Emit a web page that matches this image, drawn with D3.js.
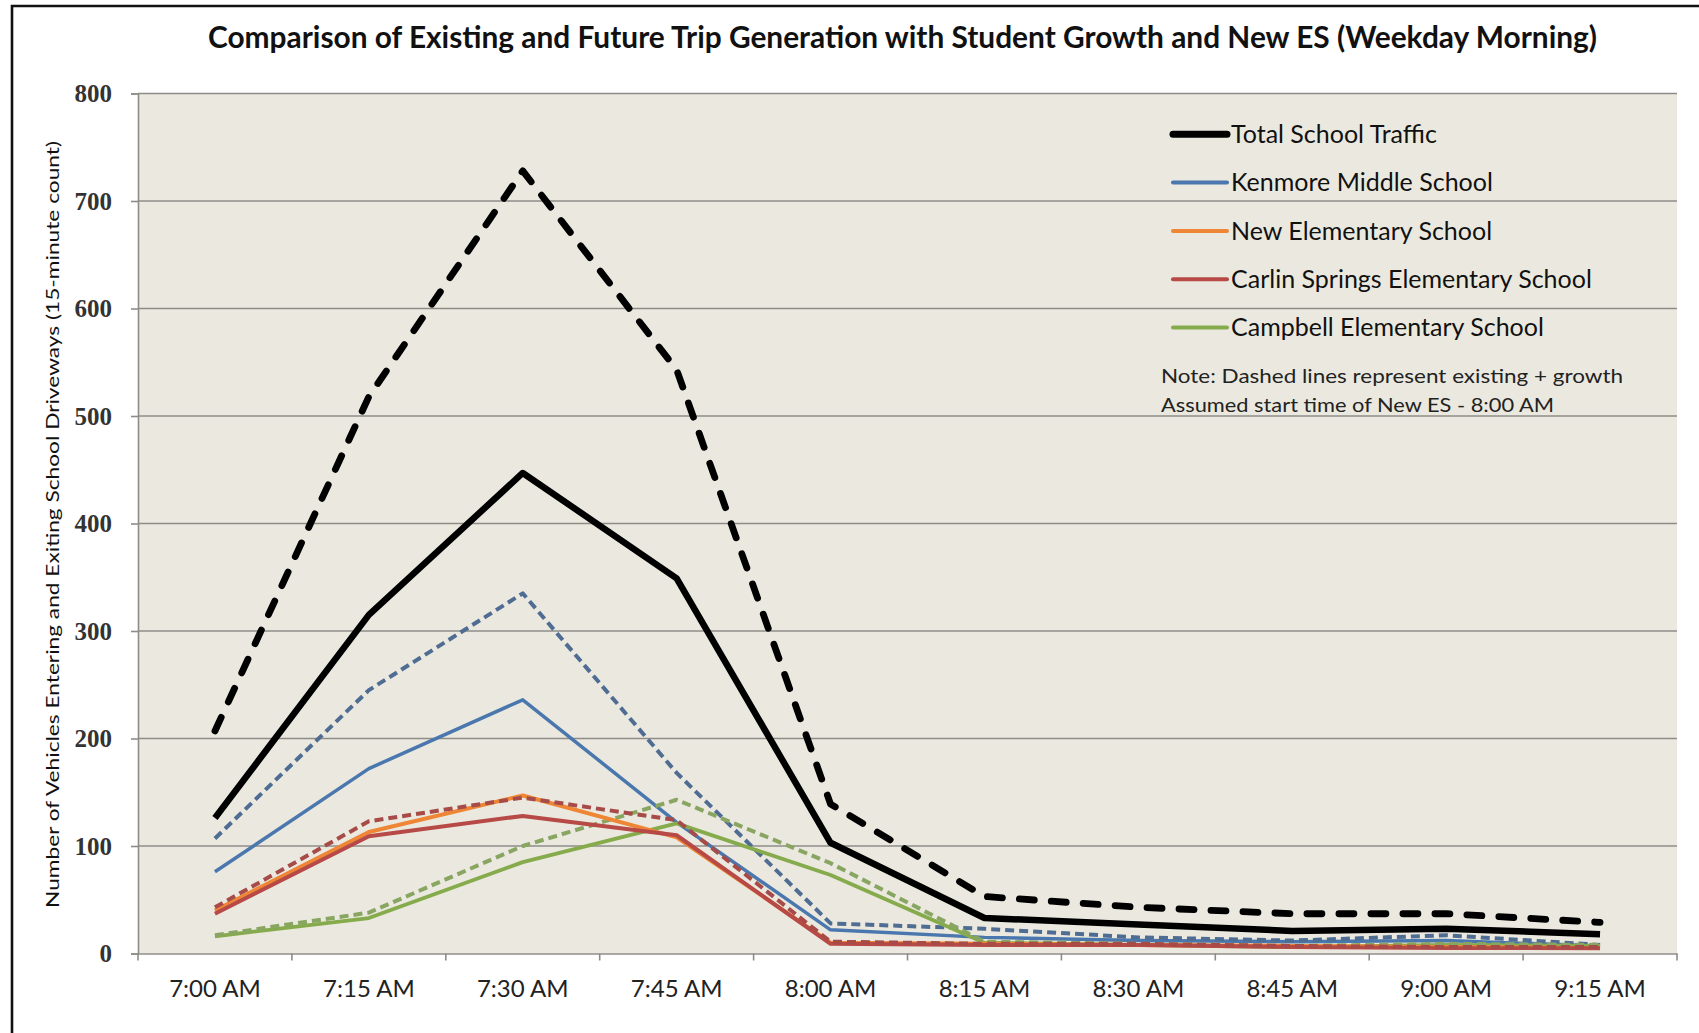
<!DOCTYPE html>
<html>
<head>
<meta charset="utf-8">
<script src="https://cdn.jsdelivr.net/npm/d3@7"></script>
<style>
  html, body { margin: 0; padding: 0; background: #ffffff; }
  svg { display: block; }
</style>
</head>
<body>
<svg id="chart" width="1699" height="1033"></svg>
<script>
// ---- data: 15-minute counts of vehicles entering/exiting school driveways ----
const timeLabels = ["7:00 AM", "7:15 AM", "7:30 AM", "7:45 AM", "8:00 AM",
                    "8:15 AM", "8:30 AM", "8:45 AM", "9:00 AM", "9:15 AM"];
const yTickValues = [0, 100, 200, 300, 400, 500, 600, 700, 800];

// existing counts (solid lines)
const totalExisting    = [126, 315, 447, 349, 103, 33, 27, 21, 23, 18];
const kenmoreExisting  = [76, 172, 236, 122, 22, 15, 12, 11, 12, 7];
const newEsCounts      = [40, 113, 147, 108, 10, 9, 8, 7, 6, 5];
const carlinExisting   = [37, 109, 128, 110, 9, 8, 8, 6, 5, 5];
const campbellExisting = [16, 33, 85, 121, 73, 10, 8, 6, 8, 7];

// existing + growth (dashed lines)
const totalFuture    = [207, 518, 728, 543, 139, 53, 43, 37, 37, 29];
const kenmoreFuture  = [107, 245, 335, 168, 28, 23, 15, 12, 17, 8];
const carlinFuture   = [43, 123, 145, 124, 11, 9, 9, 7, 6, 6];
const campbellFuture = [17, 38, 100, 143, 84, 11, 9, 7, 9, 8];

const legendLabels = ["Total School Traffic", "Kenmore Middle School", "New Elementary School",
                      "Carlin Springs Elementary School", "Campbell Elementary School"];
const noteLines = ["Note:  Dashed lines represent existing + growth",
                   "Assumed start time of New ES - 8:00  AM"];

const titleText = "Comparison of Existing and Future Trip Generation with Student Growth and New ES (Weekday Morning)";
const yTitleText = "Number of Vehicles Entering and Exiting School Driveways  (15-minute count)";

// ---- styling ----
const colors = {
  total: "#000000",
  kenmore: "#4a77ad",
  kenmoreDash: "#4f6c92",
  newEs: "#ee8636",
  carlin: "#b74a46",
  carlinDash: "#a64b47",
  campbell: "#86ab4c",
  campbellDash: "#89a562"
};

const series = [
  { values: totalFuture,      color: colors.total,        width: 6.8, dash: "15,17", cap: "round" },
  { values: totalExisting,    color: colors.total,        width: 6.5 },
  { values: kenmoreExisting,  color: colors.kenmore,      width: 3.5 },
  { values: kenmoreFuture,    color: colors.kenmoreDash,  width: 4,   dash: "9,5" },
  { values: campbellExisting, color: colors.campbell,     width: 3.8 },
  { values: campbellFuture,   color: colors.campbellDash, width: 4,   dash: "9,5" },
  { values: newEsCounts,      color: colors.newEs,        width: 4 },
  { values: carlinExisting,   color: colors.carlin,       width: 4 },
  { values: carlinFuture,     color: colors.carlinDash,   width: 4,   dash: "9,5" }
];

const legendStyles = [
  { color: colors.total,    width: 7 },
  { color: colors.kenmore,  width: 4 },
  { color: colors.newEs,    width: 4 },
  { color: colors.carlin,   width: 4 },
  { color: colors.campbell, width: 4 }
];

// ---- layout ----
const W = 1699, H = 1033;
const plot = { left: 138, right: 1677, top: 93.5, bottom: 953.5 };

const svg = d3.select("#chart");
svg.append("rect").attr("width", W).attr("height", H).attr("fill", "#ffffff");

// outer frame (top and left edges visible)
svg.append("path")
  .attr("d", `M12,${H} L12,6 L${W},6`)
  .attr("fill", "none").attr("stroke", "#111").attr("stroke-width", 2.6);

const x = d3.scaleBand().domain(timeLabels).range([plot.left, plot.right]).padding(0);
const y = d3.scaleLinear().domain([0, 800]).range([plot.bottom, plot.top]);
const cx = d => x(d) + x.bandwidth() / 2;

// plot area background
svg.append("rect")
  .attr("x", plot.left).attr("y", plot.top)
  .attr("width", plot.right - plot.left).attr("height", plot.bottom - plot.top)
  .attr("fill", "#ebe9df");

// horizontal gridlines
svg.append("g")
  .selectAll("line")
  .data(yTickValues.filter(v => v > 0))
  .join("line")
  .attr("x1", plot.left).attr("x2", plot.right)
  .attr("y1", d => y(d)).attr("y2", d => y(d))
  .attr("stroke", "#8e8c88").attr("stroke-width", 1.6);

// y axis
const yAxis = svg.append("g")
  .attr("transform", `translate(${plot.left},0)`)
  .call(d3.axisLeft(y).tickValues(yTickValues).tickSize(7).tickPadding(19).tickFormat(d3.format("d")));
yAxis.select(".domain").attr("stroke", "#8e8c88").attr("stroke-width", 1.6);
yAxis.selectAll(".tick line").attr("stroke", "#8e8c88").attr("stroke-width", 1.6);
yAxis.selectAll(".tick text")
  .attr("font-family", "'Liberation Serif', 'DejaVu Serif', serif")
  .attr("font-weight", "bold")
  .attr("font-size", 25)
  .attr("fill", "#333");

// x axis: ticks on category boundaries
const xAxis = svg.append("g")
  .attr("transform", `translate(0,${plot.bottom})`)
  .call(d3.axisBottom(x).tickSize(0).tickPadding(26));
xAxis.select(".domain").attr("stroke", "#8e8c88").attr("stroke-width", 1.6);
xAxis.selectAll(".tick text")
  .attr("font-family", "Lato, 'Open Sans', sans-serif")
  .attr("font-size", 24)
  .attr("fill", "#222");
const boundaries = timeLabels.map(d => x(d)).concat([plot.right]);
svg.append("g").selectAll("line")
  .data(boundaries)
  .join("line")
  .attr("x1", d => d).attr("x2", d => d)
  .attr("y1", plot.bottom).attr("y2", plot.bottom + 7)
  .attr("stroke", "#8e8c88").attr("stroke-width", 1.6);

// series lines
const line = d3.line()
  .x((d, i) => cx(timeLabels[i]))
  .y(d => y(d));

svg.append("g")
  .selectAll("path")
  .data(series)
  .join("path")
  .attr("d", d => line(d.values))
  .attr("fill", "none")
  .attr("stroke", d => d.color)
  .attr("stroke-width", d => d.width)
  .attr("stroke-dasharray", d => d.dash || null)
  .attr("stroke-linecap", d => d.cap || "butt")
  .attr("stroke-linejoin", "round");

// title
svg.append("text")
  .attr("x", 902.5).attr("y", 47.5)
  .attr("text-anchor", "middle")
  .attr("font-family", "Lato, 'Open Sans', sans-serif")
  .attr("font-weight", "bold")
  .attr("font-size", 30)
  .attr("fill", "#111")
  .attr("textLength", 1389)
  .attr("lengthAdjust", "spacingAndGlyphs")
  .text(titleText);

// y axis title
svg.append("text")
  .attr("transform", "translate(59,524.5) rotate(-90)")
  .attr("text-anchor", "middle")
  .attr("font-family", "Lato, 'Open Sans', sans-serif")
  .attr("font-size", 18)
  .attr("fill", "#111")
  .attr("textLength", 767)
  .attr("lengthAdjust", "spacingAndGlyphs")
  .text(yTitleText);

// legend
const legendRowY = d3.scalePoint().domain(legendLabels).range([134.3, 327.5]);
const legend = svg.append("g");
legendLabels.forEach((label, i) => {
  const ly = legendRowY(label);
  legend.append("line")
    .attr("x1", 1173).attr("x2", 1227)
    .attr("y1", ly).attr("y2", ly)
    .attr("stroke", legendStyles[i].color)
    .attr("stroke-width", legendStyles[i].width)
    .attr("stroke-linecap", "round");
  legend.append("text")
    .attr("x", 1231).attr("y", ly)
    .attr("dy", "0.35em")
    .attr("font-family", "Lato, 'Open Sans', sans-serif")
    .attr("font-size", 25)
    .attr("fill", "#111")
    .text(label);
});

// note lines
const noteWidths = [462, 393];
noteLines.forEach((t, i) => {
  svg.append("text")
    .attr("x", 1161).attr("y", 376 + i * 29.5)
    .attr("dy", "0.35em")
    .attr("font-family", "Lato, 'Open Sans', sans-serif")
    .attr("font-size", 19)
    .attr("fill", "#222")
    .attr("textLength", noteWidths[i])
    .attr("lengthAdjust", "spacingAndGlyphs")
    .text(t);
});
</script>
</body>
</html>
